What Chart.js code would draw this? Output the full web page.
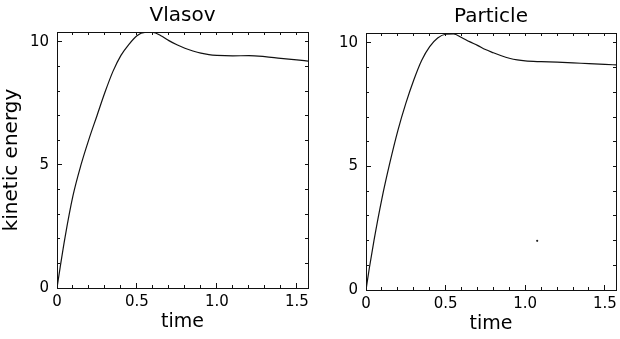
<!DOCTYPE html>
<html><head><meta charset="utf-8">
<script src="https://cdn.jsdelivr.net/npm/chart.js@4.4.0/dist/chart.umd.min.js"></script>
<style>
html,body{margin:0;padding:0;background:#fff;}
body{width:620px;height:339px;position:relative;overflow:hidden;}
.box{position:absolute;top:0;height:339px;}
</style></head><body>
<div class="box" style="left:0;width:312px"><canvas id="c1" width="312" height="339"></canvas></div>
<div class="box" style="left:310px;width:310px"><canvas id="c2" width="310" height="339"></canvas></div>
<script>
// ---- data ----
const vlasovTime   = [0, 0.02, 0.05, 0.1, 0.15, 0.2, 0.25, 0.3, 0.35, 0.4, 0.45, 0.5, 0.55, 0.6, 0.65, 0.7, 0.75, 0.8, 0.85, 0.9, 0.95, 1.0, 1.1, 1.2, 1.3, 1.4, 1.5, 1.57];
const vlasovEnergy = [0, 0.85, 2.05, 3.75, 5.0, 6.05, 7.0, 7.95, 8.8, 9.45, 9.9, 10.25, 10.38, 10.38, 10.25, 10.05, 9.88, 9.74, 9.63, 9.54, 9.48, 9.45, 9.43, 9.44, 9.4, 9.33, 9.27, 9.22];
const particleTime   = [0, 0.02, 0.05, 0.1, 0.15, 0.2, 0.25, 0.3, 0.35, 0.4, 0.45, 0.5, 0.55, 0.6, 0.65, 0.7, 0.75, 0.8, 0.85, 0.9, 0.95, 1.0, 1.1, 1.2, 1.3, 1.4, 1.5, 1.57];
const particleEnergy = [0, 0.85, 2.0, 3.7, 5.15, 6.45, 7.55, 8.5, 9.3, 9.85, 10.2, 10.35, 10.36, 10.22, 10.05, 9.9, 9.73, 9.6, 9.48, 9.38, 9.31, 9.27, 9.24, 9.22, 9.19, 9.16, 9.13, 9.11];
const particleSpeckTime = [1.075];
const particleSpeckEnergy = [1.99];

const xMajorTicks = [0, 0.5, 1.0, 1.5];
const xTickLabels = ['0', '0.5', '1.0', '1.5'];
const xMinorTicks = [0, 0.1, 0.2, 0.3, 0.4, 0.5, 0.6, 0.7, 0.8, 0.9, 1.0, 1.1, 1.2, 1.3, 1.4, 1.5];
const yMajorTicks = [0, 5, 10];
const yTickLabels = ['0', '5', '10'];
const yMinorTicks = [0, 1, 2, 3, 4, 5, 6, 7, 8, 9, 10];
const xRange = [0, 1.57];
const yRange = [0, 10.4];

// ---- drawing ----
Chart.defaults.font.family = 'DejaVu Sans';
Chart.defaults.color = '#000';

function axis(pos, weight, values, tickLen, fit, extra) {
  const horiz = pos === 'top' || pos === 'bottom';
  const rng = horiz ? xRange : yRange;
  return Object.assign({
    type: 'linear', position: pos, weight: weight, min: rng[0], max: rng[1],
    afterBuildTicks: s => { s.ticks = values.map(v => ({ value: v })); },
    afterFit: s => {
      if (horiz) s.height = fit; else s.width = fit;
      s.paddingLeft = 0; s.paddingRight = 0; s.paddingTop = 0; s.paddingBottom = 0;
    },
    grid: { display: true, drawOnChartArea: false, drawTicks: true, tickLength: tickLen, color: '#111', tickColor: '#111', lineWidth: 1 },
    border: { display: true, color: '#111', width: 1 },
    ticks: { display: false, autoSkip: false }
  }, extra || {});
}

function pts(xs, ys) { return xs.map((t, i) => ({ x: t, y: ys[i] })); }

function makeChart(id, o) {
  const scales = {
    x: axis('bottom', 1, xMajorTicks, -5, o.xFit, {
      ticks: { display: true, autoSkip: false, maxRotation: 0, padding: o.xPad, font: { size: 15 }, callback: (v, i) => xTickLabels[i] },
      title: { display: true, text: 'time', font: { size: 19 }, padding: { top: 0, bottom: o.xTitlePad } }
    }),
    xm: axis('bottom', 0, xMinorTicks, -3, 0, { border: { display: false } }),
    xt: axis('top', 0, xMinorTicks, -3, 0),
    y: axis('left', 1, yMajorTicks, -5, o.yFit, {
      ticks: { display: true, autoSkip: false, padding: 13, font: { size: 15 }, callback: (v, i) => yTickLabels[i] },
      title: { display: o.yTitle, text: 'kinetic energy', font: { size: 20 }, padding: { top: 0, bottom: 0 } }
    }),
    ym: axis('left', 0, yMinorTicks, -3, 0, { border: { display: false } }),
    yr: axis('right', 0, yMinorTicks, -3, 0)
  };
  const datasets = [{
    type: 'line', data: pts(o.xs, o.ys), borderColor: '#111', borderWidth: 1.2,
    pointRadius: 0, fill: false, cubicInterpolationMode: 'monotone'
  }];
  if (o.speck) datasets.push({
    type: 'scatter', data: pts(o.speck[0], o.speck[1]), pointRadius: 1.1,
    backgroundColor: '#222', borderWidth: 0
  });
  return new Chart(document.getElementById(id), {
    type: 'line',
    data: { datasets },
    options: {
      responsive: false, animation: false, events: [],
      layout: { padding: { left: 0, right: o.rightPad, top: 0, bottom: 0 } },
      plugins: {
        legend: { display: false }, tooltip: { enabled: false },
        title: { display: true, text: o.title, fullSize: false, font: { size: 20, weight: 'normal' }, color: '#000', padding: { top: o.titleTop, bottom: 4 } }
      },
      scales
    }
  });
}

makeChart('c1', { title: 'Vlasov', xs: vlasovTime, ys: vlasovEnergy, xFit: 51, yFit: 57, yTitle: true,
  rightPad: 4, titleTop: 4, xPad: 10, xTitlePad: 6 });
makeChart('c2', { title: 'Particle', xs: particleTime, ys: particleEnergy, speck: [particleSpeckTime, particleSpeckEnergy],
  xFit: 49, yFit: 56, yTitle: false, rightPad: 3, titleTop: 5, xPad: 10, xTitlePad: 4 });
</script>
</body></html>
